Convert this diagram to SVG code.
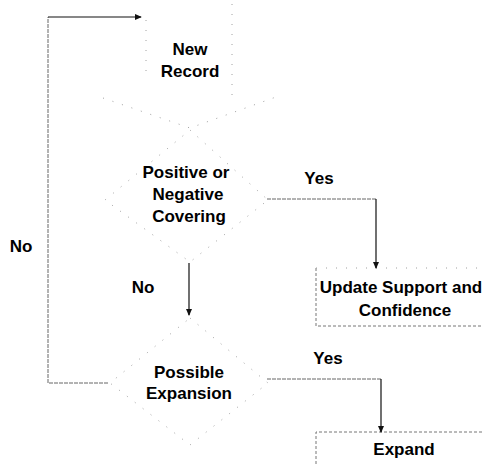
<svg xmlns="http://www.w3.org/2000/svg" width="483" height="464" viewBox="0 0 483 464">
  <defs>
    <marker id="arrow" viewBox="0 0 8 8" refX="7" refY="4" markerWidth="7" markerHeight="7" markerUnits="userSpaceOnUse" orient="auto">
      <path d="M0,0.5 L8,4 L0,7.5 Z" fill="#111"/>
    </marker>
    <style>
      .lbl { font-family: "Liberation Sans", Arial, sans-serif; font-weight: bold; font-size: 17px; fill: #000; text-anchor: middle; }
      .outline { fill: none; stroke: #a0a0a0; stroke-width: 1; stroke-dasharray: 1 9; }
      .box { fill: none; stroke: #777; stroke-width: 1; stroke-dasharray: 3 2; }
      .wire { fill: none; stroke: #666; stroke-width: 1; stroke-dasharray: 4 1; }
      .down { fill: none; stroke: #111; stroke-width: 1.2; }
    </style>
  </defs>
  <rect width="483" height="464" fill="#fff"/>

  <g id="new-record">
    <line class="outline" x1="146" y1="20" x2="146" y2="78"/>
    <line class="outline" x1="232" y1="4" x2="232" y2="95"/>
    <polyline class="outline" points="103,98 190,128 276,97"/>
    <text class="lbl" x="190" y="55">New</text>
    <text class="lbl" x="190" y="77">Record</text>
  </g>

  <g id="covering-decision">
    <polygon class="outline" points="190,130 268,200 190,262 105,200"/>
    <text class="lbl" x="186" y="178">Positive or</text>
    <text class="lbl" x="188" y="200">Negative</text>
    <text class="lbl" x="189" y="222">Covering</text>
  </g>

  <g id="update-support">
    <polyline class="box" points="316,268 316,326 490,326"/>
    <line class="outline" x1="316" y1="268" x2="490" y2="268"/>
    <text class="lbl" x="401" y="293">Update Support and</text>
    <text class="lbl" x="405" y="316">Confidence</text>
  </g>

  <g id="expansion-decision">
    <polygon class="outline" points="190,318 268,383 190,445 110,383"/>
    <text class="lbl" x="189" y="378">Possible</text>
    <text class="lbl" x="189" y="399">Expansion</text>
  </g>

  <g id="expand">
    <polyline class="box" points="316,464 316,432 490,432"/>
    <text class="lbl" x="404" y="455">Expand</text>
  </g>

  <g id="connectors">
    <!-- covering: yes branch -->
    <polyline class="wire" points="267,199 376,199"/>
    <line class="down" x1="376" y1="199" x2="376" y2="268" marker-end="url(#arrow)"/>
    <text class="lbl" x="319" y="184">Yes</text>
    <!-- covering: no branch -->
    <line class="down" x1="189" y1="263" x2="189" y2="315" marker-end="url(#arrow)"/>
    <text class="lbl" x="143" y="293">No</text>
    <!-- expansion: yes branch -->
    <polyline class="wire" points="267,379 381,379"/>
    <line class="down" x1="381" y1="379" x2="381" y2="432" marker-end="url(#arrow)"/>
    <text class="lbl" x="328" y="364">Yes</text>
    <!-- expansion: no branch loops back to new record -->
    <polyline class="wire" points="108,383 48,383 48,17"/>
    <line class="down" x1="48" y1="17" x2="141" y2="17" marker-end="url(#arrow)"/>
    <text class="lbl" x="21" y="252">No</text>
  </g>
</svg>
